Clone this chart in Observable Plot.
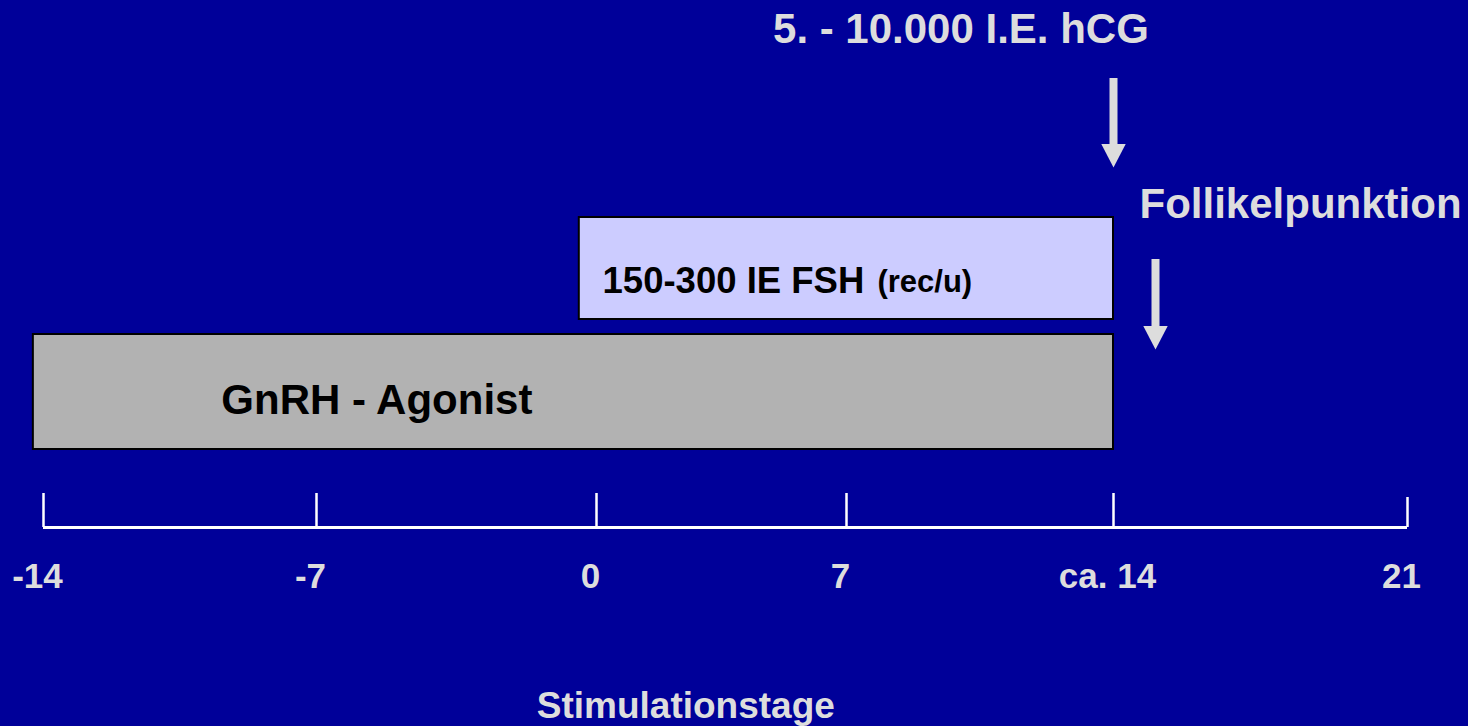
<!DOCTYPE html>
<html>
<head>
<meta charset="utf-8">
<script src="https://cdn.jsdelivr.net/npm/d3@7"></script>
<script src="https://cdn.jsdelivr.net/npm/@observablehq/plot@0.6"></script>
<style>
  html, body { margin: 0; padding: 0; background: #000099; }
  svg { display: block; background: #000099; }
</style>
</head>
<body>
<div id="chart"></div>
<script>
// ---- data ----
const tickValues = [-14, -7, 0, 7, 14, 21];
const tickLabels = ["-14", "-7", "0", "7", "ca. 14", "21"];
const tickTops = [0.34, 0.34, 0.34, 0.34, 0.34, 0.30];

const barNames = ["GnRH - Agonist", "150-300 IE FSH"];
const barStart = [-14.26, -0.43];
const barEnd = [14, 14];
const barBottom = [0.78, 2.08];
const barTop = [1.93, 3.10];
const barLabelX = [-9.44, 0.17];
const barLabelY = [1.274, 2.462];

const subLabel = ["(rec/u)"];
const subLabelX = [7.81];
const subLabelY = [2.45];

const arrowNames = ["5. - 10.000 I.E. hCG", "Follikelpunktion"];
const arrowX = [14, 15];
const arrowTop = [4.49, 2.68];
const arrowTip = [3.60, 1.78];
const arrowLabelX = [10, 14.62];
const arrowLabelY = [4.984, 3.234];

const axisTitle = "Stimulationstage";
const axisTitleX = 2.5;

// ---- tables ----
const ticks = tickValues.map((v, i) => ({v, label: tickLabels[i], top: tickTops[i]}));
const bars = barNames.map((n, i) => ({n, x1: barStart[i], x2: barEnd[i], y1: barBottom[i], y2: barTop[i], lx: barLabelX[i], ly: barLabelY[i]}));
const arrows = arrowNames.map((n, i) => ({n, x: arrowX[i], top: arrowTop[i], tip: arrowTip[i], lx: arrowLabelX[i], ly: arrowLabelY[i]}));

const font = "'Liberation Sans', Arial, Helvetica, sans-serif";
const light = "#dddddd";

const downTriangle = {
  draw(context, size) {
    const r = Math.sqrt(size / Math.PI);
    context.moveTo(0, 0);
    context.lineTo(-r, -1.92 * r);
    context.lineTo(r, -1.92 * r);
    context.closePath();
  }
};

const chart = Plot.plot({
  width: 1468,
  height: 726,
  marginTop: 0,
  marginBottom: 199,
  marginLeft: 0,
  marginRight: 0,
  style: {background: "#000099", fontFamily: font, fontWeight: "bold"},
  x: {type: "linear", domain: tickValues, range: [43, 316, 596, 846, 1113, 1407], axis: null},
  y: {domain: [0, 5.27], axis: null},
  marks: [
    // bars
    Plot.rect([bars[0]], {x1: "x1", x2: "x2", y1: "y1", y2: "y2", fill: "#b2b2b2", stroke: "#000", strokeWidth: 2}),
    Plot.rect([bars[1]], {x1: "x1", x2: "x2", y1: "y1", y2: "y2", fill: "#ccccff", stroke: "#000", strokeWidth: 2}),
    Plot.text([bars[0]], {x: "lx", y: "ly", text: "n", textAnchor: "start", fill: "#000", fontSize: 42, fontWeight: "bold"}),
    Plot.text([bars[1]], {x: "lx", y: "ly", text: "n", textAnchor: "start", fill: "#000", fontSize: 36.5, fontWeight: "bold"}),
    Plot.text(subLabel, {x: (d, i) => subLabelX[i], y: (d, i) => subLabelY[i], text: d => d, textAnchor: "start", fill: "#000", fontSize: 31, fontWeight: "bold"}),
    // arrows
    Plot.ruleX(arrows, {x: "x", y1: "top", y2: "tip", stroke: light, strokeWidth: 8, insetBottom: 20}),
    Plot.dot(arrows, {x: "x", y: "tip", symbol: downTriangle, r: 12.2, fill: light, stroke: "none"}),
    Plot.text([arrows[0]], {x: "lx", y: "ly", text: "n", textAnchor: "middle", fill: light, fontSize: 42, fontWeight: "bold"}),
    Plot.text([arrows[1]], {x: "lx", y: "ly", text: "n", textAnchor: "start", fill: light, fontSize: 42, fontWeight: "bold"}),
    // axis
    Plot.ruleY([0], {x1: tickValues[0], x2: tickValues[tickValues.length - 1], stroke: "#fff", strokeWidth: 3}),
    Plot.ruleX(ticks, {x: "v", y1: 0, y2: "top", stroke: "#fff", strokeWidth: 2.5}),
    Plot.text(ticks, {x: "v", y: 0, text: "label", dy: 49, dx: -6, fill: light, fontSize: 35, fontWeight: "bold"}),
    Plot.text([axisTitle], {x: axisTitleX, y: 0, text: d => d, dy: 179, fill: light, fontSize: 37, fontWeight: "bold"})
  ]
});
document.getElementById("chart").appendChild(chart);
</script>
</body>
</html>
